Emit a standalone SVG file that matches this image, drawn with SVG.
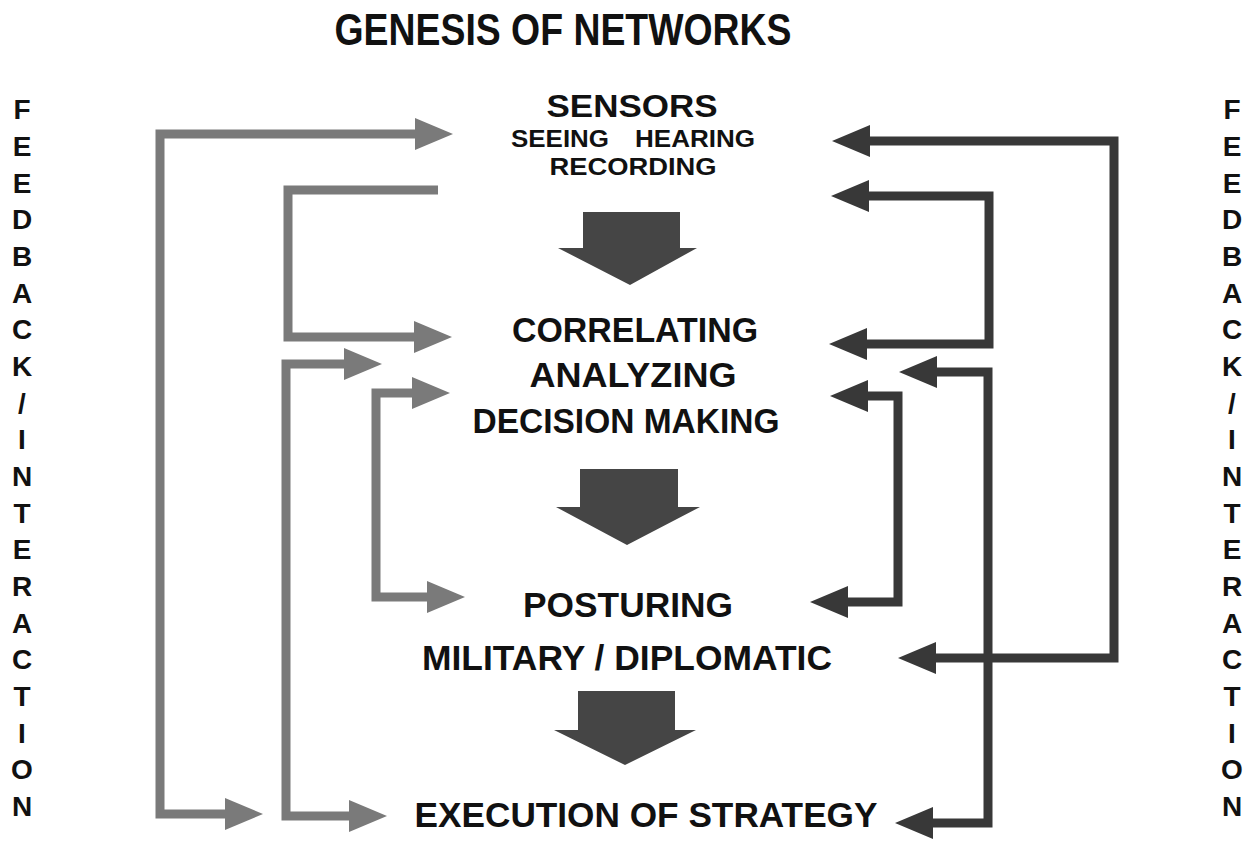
<svg xmlns="http://www.w3.org/2000/svg" width="1257" height="842" viewBox="0 0 1257 842">
<style>
  .t{font-family:"Liberation Sans",Arial,sans-serif;font-weight:bold;fill:#111;text-anchor:middle}
  .side{font-family:"Liberation Sans",Arial,sans-serif;font-weight:bold;fill:#111;text-anchor:middle;font-size:28px}
  .cl{fill:none;stroke:#7a7a7a;stroke-width:9;stroke-linejoin:miter}
  .cr{fill:none;stroke:#383838;stroke-width:9;stroke-linejoin:miter}
  .blk{fill:#454545}
</style>
<defs>
  <marker id="ahG" viewBox="0 -16 38 32" markerWidth="38" markerHeight="32" refX="10" refY="0" orient="auto-start-reverse" markerUnits="userSpaceOnUse">
    <path d="M0,-16 L38,0 L0,16 Z" fill="#7a7a7a"/>
  </marker>
  <marker id="ahD" viewBox="0 -16 38 32" markerWidth="38" markerHeight="32" refX="10" refY="0" orient="auto-start-reverse" markerUnits="userSpaceOnUse">
    <path d="M0,-16 L38,0 L0,16 Z" fill="#383838"/>
  </marker>
</defs>
<rect width="1257" height="842" fill="#fff"/>

<g id="title"><text class="t" x="563" y="45" font-size="44" textLength="457" lengthAdjust="spacingAndGlyphs">GENESIS OF NETWORKS</text></g>

<g id="feedback-left"><text class="side">
<tspan x="22" y="119">F</tspan><tspan x="22" y="156">E</tspan><tspan x="22" y="193">E</tspan><tspan x="22" y="229">D</tspan><tspan x="22" y="266">B</tspan><tspan x="22" y="303">A</tspan><tspan x="22" y="339">C</tspan><tspan x="22" y="376">K</tspan><tspan x="22" y="413">/</tspan><tspan x="22" y="449">I</tspan><tspan x="22" y="486">N</tspan><tspan x="22" y="523">T</tspan><tspan x="22" y="559">E</tspan><tspan x="22" y="596">R</tspan><tspan x="22" y="633">A</tspan><tspan x="22" y="669">C</tspan><tspan x="22" y="706">T</tspan><tspan x="22" y="743">I</tspan><tspan x="22" y="779">O</tspan><tspan x="22" y="816">N</tspan>
</text></g>
<g id="feedback-right"><text class="side">
<tspan x="1232" y="119">F</tspan><tspan x="1232" y="156">E</tspan><tspan x="1232" y="193">E</tspan><tspan x="1232" y="229">D</tspan><tspan x="1232" y="266">B</tspan><tspan x="1232" y="303">A</tspan><tspan x="1232" y="339">C</tspan><tspan x="1232" y="376">K</tspan><tspan x="1232" y="413">/</tspan><tspan x="1232" y="449">I</tspan><tspan x="1232" y="486">N</tspan><tspan x="1232" y="523">T</tspan><tspan x="1232" y="559">E</tspan><tspan x="1232" y="596">R</tspan><tspan x="1232" y="633">A</tspan><tspan x="1232" y="669">C</tspan><tspan x="1232" y="706">T</tspan><tspan x="1232" y="743">I</tspan><tspan x="1232" y="779">O</tspan><tspan x="1232" y="816">N</tspan>
</text></g>

<g id="sensors">
  <text class="t" x="632" y="117" font-size="32" textLength="171" lengthAdjust="spacingAndGlyphs">SENSORS</text>
  <text class="t" x="560" y="147" font-size="24" textLength="98" lengthAdjust="spacingAndGlyphs">SEEING</text>
  <text class="t" x="695" y="147" font-size="24" textLength="120" lengthAdjust="spacingAndGlyphs">HEARING</text>
  <text class="t" x="633" y="175" font-size="24" textLength="167" lengthAdjust="spacingAndGlyphs">RECORDING</text>
</g>
<g id="correlating">
  <text class="t" x="635" y="342" font-size="35" textLength="246" lengthAdjust="spacingAndGlyphs">CORRELATING</text>
  <text class="t" x="633" y="387" font-size="35" textLength="207" lengthAdjust="spacingAndGlyphs">ANALYZING</text>
  <text class="t" x="626" y="433" font-size="35" textLength="307" lengthAdjust="spacingAndGlyphs">DECISION MAKING</text>
</g>
<g id="posturing">
  <text class="t" x="628" y="617" font-size="35" textLength="210" lengthAdjust="spacingAndGlyphs">POSTURING</text>
  <text class="t" x="627" y="670" font-size="35" textLength="410" lengthAdjust="spacingAndGlyphs">MILITARY / DIPLOMATIC</text>
</g>
<g id="execution">
  <text class="t" x="646" y="827" font-size="35" textLength="463" lengthAdjust="spacingAndGlyphs">EXECUTION OF STRATEGY</text>
</g>

<g id="flow-arrows">
  <path class="blk" d="M583,212 H680 V248 H697 L630,285 L558,248 H583 Z"/>
  <path class="blk" d="M580,469 H678 V507 H700 L627,545 L556,507 H580 Z"/>
  <path class="blk" d="M578,691 H675 V730 H696 L625,765 L554,730 H578 Z"/>
</g>

<g id="connectors">
  <path class="cl" d="M425,134 H160 V814 H235" marker-start="url(#ahG)" marker-end="url(#ahG)"/>
  <path class="cl" d="M438,190 H288 V337 H424" marker-end="url(#ahG)"/>
  <path class="cl" d="M354,364 H286 V816 H359" marker-start="url(#ahG)" marker-end="url(#ahG)"/>
  <path class="cl" d="M422,393 H376 V597 H437" marker-start="url(#ahG)" marker-end="url(#ahG)"/>
  <path class="cr" d="M860,141 H1114 V658 H926" marker-start="url(#ahD)" marker-end="url(#ahD)"/>
  <path class="cr" d="M859,196 H989 V344 H857" marker-start="url(#ahD)" marker-end="url(#ahD)"/>
  <path class="cr" d="M927,372 H988 V823 H923" marker-start="url(#ahD)" marker-end="url(#ahD)"/>
  <path class="cr" d="M858,396 H898 V602 H838" marker-start="url(#ahD)" marker-end="url(#ahD)"/>
</g>
</svg>
